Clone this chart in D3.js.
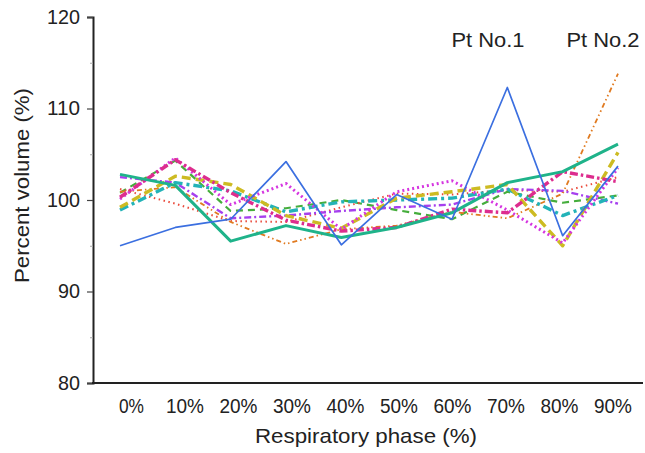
<!DOCTYPE html>
<html>
<head>
<meta charset="utf-8">
<script src="https://cdn.jsdelivr.net/npm/d3@7"></script>
<style>
  html, body { margin: 0; padding: 0; background: #fff; }
  text { font-family: "Liberation Sans", Arial, sans-serif; fill: #222; }
</style>
</head>
<body>
<svg id="chart" width="645" height="453"></svg>
<script>
const phases = ["0%", "10%", "20%", "30%", "40%", "50%", "60%", "70%", "80%", "90%"];
const yTicks = [80, 90, 100, 110, 120];
const yMinorTicks = [85, 95, 105, 115];

const blueSolid    = [95.0, 97.0, 97.9, 104.2, 95.1, 100.6, 97.9, 112.3, 96.1, 103.7];
const greenSolid   = [102.8, 101.6, 95.5, 97.2, 95.9, 97.0, 98.6, 101.9, 103.1, 106.1];
const orangeDDot   = [100.9, 101.4, 97.6, 95.2, 96.8, 97.2, 98.7, 98.0, 100.7, 113.8];
const redDotted    = [101.2, 99.6, 97.7, 97.6, 99.2, 100.7, 100.6, 101.1, 100.9, 102.5];
const magentaDDash = [100.3, 104.4, 100.8, 97.8, 96.6, 97.0, 99.0, 98.6, 103.1, 102.0];
const purpleDDash  = [102.5, 101.9, 98.0, 98.3, 98.8, 99.2, 99.5, 101.2, 101.0, 99.6];
const yellowDash   = [99.2, 102.6, 101.7, 98.3, 96.9, 100.2, 100.9, 101.7, 95.0, 105.2];
const tealDDash    = [98.9, 101.9, 101.0, 98.7, 99.8, 100.0, 100.2, 101.2, 98.3, 100.5];
const magentaDot   = [100.1, 104.6, 99.5, 101.8, 96.8, 100.9, 102.1, 98.9, 95.3, 103.5];
const greenDash    = [100.8, 104.3, 98.8, 99.1, 100.0, 98.9, 97.9, 100.9, 99.7, 100.5];

const annotations = ["Pt No.1", "Pt No.2"];

const series = [
  { values: greenDash,    color: "#45ad3c", width: 2.2, dash: "7 5" },
  { values: redDotted,    color: "#ea4b3c", width: 2.0, dash: "1.5 3.5" },
  { values: orangeDDot,   color: "#e07a20", width: 1.8, dash: "5 3 1.5 3 1.5 3" },
  { values: purpleDDash,  color: "#a640ee", width: 2.4, dash: "7 3 2 3" },
  { values: tealDDash,    color: "#23b3b8", width: 3.4, dash: "9 4 3 4" },
  { values: yellowDash,   color: "#cdbb22", width: 3.4, dash: "9 5" },
  { values: magentaDot,   color: "#d535e0", width: 3.0, dash: "2 3" },
  { values: magentaDDash, color: "#dd2d8e", width: 3.4, dash: "8 3 2.5 3" },
  { values: greenSolid,   color: "#1fb38a", width: 3.0, dash: null },
  { values: blueSolid,    color: "#3b6fe0", width: 1.7, dash: null }
];

const svg = d3.select("#chart");

const x = d3.scalePoint().domain(phases).range([120, 618]);
const xLabel = d3.scalePoint().domain(phases).range([131, 612.5]);
const y = d3.scaleLinear().domain([80, 120]).range([383, 17]);

// lines
const line = d3.line().x((d, i) => x(phases[i])).y(d => y(d));
svg.append("g").selectAll("path").data(series).join("path")
  .attr("d", s => line(s.values))
  .attr("fill", "none")
  .attr("stroke", s => s.color)
  .attr("stroke-width", s => s.width)
  .attr("stroke-dasharray", s => s.dash)
  .attr("stroke-linejoin", "round");

// y axis
const yAxis = svg.append("g").attr("transform", "translate(93,0)")
  .call(d3.axisLeft(y).tickValues(yTicks).tickSize(6).tickPadding(7).tickFormat(d3.format("d")));
yAxis.select(".domain").attr("stroke", "#222").attr("stroke-width", 2);
yAxis.selectAll(".tick line").attr("stroke", "#444").attr("stroke-width", 1.2);
yAxis.selectAll(".tick text").style("font-size", "20px").attr("fill", "#222")
  .attr("textLength", d => String(d).length === 3 ? 33 : 22)
  .attr("lengthAdjust", "spacingAndGlyphs");

const yMinor = svg.append("g").attr("transform", "translate(93,0)")
  .call(d3.axisLeft(y).tickValues(yMinorTicks).tickSize(3).tickFormat(""));
yMinor.select(".domain").remove();
yMinor.selectAll(".tick line").attr("stroke", "#aaa").attr("stroke-width", 1);

// x axis line (no ticks)
svg.append("line")
  .attr("x1", 92).attr("x2", 643).attr("y1", y(80)).attr("y2", y(80))
  .attr("stroke", "#222").attr("stroke-width", 2);

// x labels
const xAxis = svg.append("g").attr("transform", "translate(0," + y(80) + ")")
  .call(d3.axisBottom(xLabel).tickSize(0).tickPadding(0));
xAxis.select(".domain").remove();
xAxis.selectAll(".tick text")
  .attr("dy", null).attr("y", 30)
  .style("font-size", "20px").attr("fill", "#222")
  .attr("textLength", d => d.length === 2 ? 25 : 38)
  .attr("lengthAdjust", "spacingAndGlyphs");

// axis titles
svg.append("text")
  .attr("x", 366).attr("y", 443)
  .attr("text-anchor", "middle")
  .style("font-size", "21px")
  .attr("textLength", 222).attr("lengthAdjust", "spacingAndGlyphs")
  .text("Respiratory phase (%)");

svg.append("text")
  .attr("transform", "translate(28.5,185.5) rotate(-90)")
  .attr("text-anchor", "middle")
  .style("font-size", "21px")
  .attr("textLength", 195).attr("lengthAdjust", "spacingAndGlyphs")
  .text("Percent volume (%)");

// annotations
svg.append("text").attr("x", 488).attr("y", 47).attr("text-anchor", "middle")
  .style("font-size", "20px")
  .attr("textLength", 73).attr("lengthAdjust", "spacingAndGlyphs")
  .text(annotations[0]);
svg.append("text").attr("x", 603).attr("y", 47).attr("text-anchor", "middle")
  .style("font-size", "20px")
  .attr("textLength", 73).attr("lengthAdjust", "spacingAndGlyphs")
  .text(annotations[1]);
</script>
</body>
</html>
